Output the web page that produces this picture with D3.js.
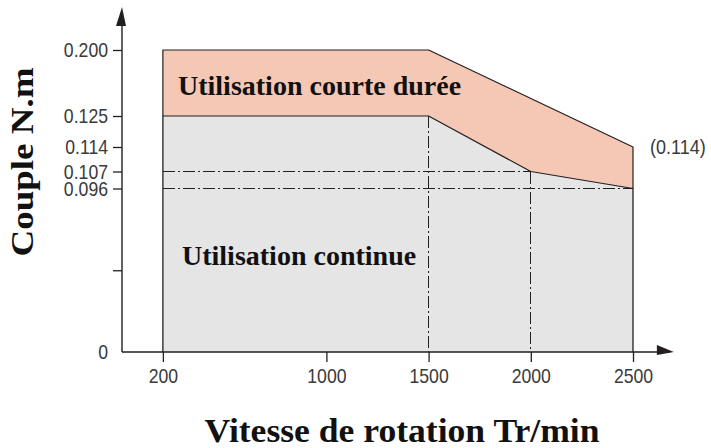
<!DOCTYPE html>
<html>
<head>
<meta charset="utf-8">
<script src="https://cdn.jsdelivr.net/npm/d3@7"></script>
<style>
    body { margin: 0; background: #fff; }
    .tick text { font-family: "Liberation Sans Narrow", "Liberation Sans", Arial, sans-serif; fill: #3a3a3a; }
    .title { font-family: "Liberation Serif", "Times New Roman", serif; font-weight: bold; fill: #111; }
</style>
</head>
<body>
<svg></svg>
<script>
// Torque / speed envelope of the motor (schematic, not to scale on the torque axis)
const peakSpeeds = [200, 1500, 2500];
const peakTorque = [0.200, 0.200, 0.114];
const contSpeeds = [200, 1500, 2000, 2500];
const contTorque = [0.125, 0.125, 0.107, 0.096];

const xTicks = [200, 1000, 1500, 2000, 2500];
const yTicks = [0, 0.048, 0.096, 0.107, 0.114, 0.125, 0.200];
const yTickLabels = ['0', '', '0.096', '0.107', '0.114', '0.125', '0.200'];

let width = 711,
    height = 448,
    ink = '#231f20',
    pink = '#f5c7b5',
    grey = '#e5e5e5';

const svg = d3.select('svg')
    .attr('width', width)
    .attr('height', height);

// speed axis is linear from 0
const x = d3.scaleLinear()
    .domain([0, 2500])
    .range([122, 633]);

// torque axis is drawn piecewise in the original (labelled values are spread out)
const y = d3.scaleLinear()
    .domain([0, 0.096, 0.107, 0.114, 0.125, 0.200])
    .range([352, 188.5, 171.5, 147, 116, 50]);

const peak = peakSpeeds.map((s, i) => [s, peakTorque[i]]);
const cont = contSpeeds.map((s, i) => [s, contTorque[i]]);
const line = d3.line().x((d) => x(d[0])).y((d) => y(d[1]));

// squeeze sans labels to mimic the condensed face of the original
function narrow(sel, k) {
    sel.each(function () {
        let w = this.getComputedTextLength();
        if (w > 0) d3.select(this)
            .attr('textLength', w * k)
            .attr('lengthAdjust', 'spacingAndGlyphs');
    });
}

// continuous-use area (grey), down to the speed axis
const first = cont[0], last = cont[cont.length - 1];
svg.append('path')
    .attr('d', line([[first[0], 0], ...cont, [last[0], 0]]))
    .attr('fill', grey)
    .attr('stroke', 'none');

// short-duration area (pink) between peak and continuous curves
svg.append('path')
    .attr('d', line([...peak, ...cont.slice().reverse()]) + 'Z')
    .attr('fill', pink)
    .attr('stroke', ink)
    .attr('stroke-width', 1.2)
    .attr('stroke-linejoin', 'round');

// reference dash-dot lines
const refs = svg.append('g')
    .attr('stroke', ink)
    .attr('stroke-width', 1.1)
    .attr('stroke-dasharray', '12,3,2,3')
    .attr('shape-rendering', 'crispEdges');
refs.append('line')
    .attr('x1', x(first[0])).attr('x2', x(cont[2][0]))
    .attr('y1', y(cont[2][1])).attr('y2', y(cont[2][1]));
refs.append('line')
    .attr('x1', x(first[0])).attr('x2', x(last[0]))
    .attr('y1', y(last[1])).attr('y2', y(last[1]));
[cont[1], cont[2]].forEach((p) => {
    refs.append('line')
        .attr('x1', x(p[0])).attr('x2', x(p[0]))
        .attr('y1', y(p[1])).attr('y2', y(0));
});

// solid side edges of the envelope, running down to the axis ticks
svg.append('line')
    .attr('x1', x(first[0])).attr('x2', x(first[0]))
    .attr('y1', y(first[1])).attr('y2', y(0))
    .attr('stroke', ink).attr('stroke-width', 1.3);
svg.append('line')
    .attr('x1', x(last[0])).attr('x2', x(last[0]))
    .attr('y1', y(last[1])).attr('y2', y(0))
    .attr('stroke', ink).attr('stroke-width', 1.3);

// axes
const xAxis = svg.append('g')
    .attr('transform', `translate(0,${y(0)})`)
    .call(d3.axisBottom(x)
        .tickValues(xTicks)
        .tickSize(10)
        .tickPadding(6)
        .tickFormat(d3.format('d')));
xAxis.select('.domain').remove();
xAxis.selectAll('line').attr('stroke', ink).attr('stroke-width', 1.3);
xAxis.selectAll('text').attr('font-size', 21).call(narrow, 0.84);

const yAxis = svg.append('g')
    .attr('transform', `translate(${x(0)},0)`)
    .call(d3.axisLeft(y)
        .tickValues(yTicks)
        .tickSize(9)
        .tickPadding(5)
        .tickFormat((d, i) => yTickLabels[i]));
yAxis.select('.domain').remove();
yAxis.selectAll('line').attr('stroke', ink).attr('stroke-width', 1.3);
yAxis.selectAll('.tick').filter((d) => d === 0).select('line').remove();
yAxis.selectAll('text').attr('font-size', 21).call(narrow, 0.84);

// axis lines with arrow heads
svg.append('path')
    .attr('d', `M${x(0)},${y(0)}H${x(2680)}M${x(0)},${y(0)}V20`)
    .attr('fill', 'none')
    .attr('stroke', ink)
    .attr('stroke-width', 1.4);
svg.append('path')
    .attr('d', `M${x(2700) - 17},345L${x(2700)},${y(0)}L${x(2700) - 17},355Z`)
    .attr('fill', ink);
svg.append('path')
    .attr('d', `M${x(0)},7L${x(0) - 6},26L${x(0) + 4},26Z`)
    .attr('fill', ink);

// region labels
svg.append('text')
    .attr('class', 'title')
    .attr('x', 178).attr('y', 95)
    .attr('font-size', 28)
    .text('Utilisation courte durée');
svg.append('text')
    .attr('class', 'title')
    .attr('x', 182).attr('y', 265)
    .attr('font-size', 28)
    .text('Utilisation continue');

svg.append('text')
    .attr('x', 650).attr('y', y(peakTorque[2]) + 7)
    .attr('font-family', '"Liberation Sans Narrow", "Liberation Sans", Arial, sans-serif')
    .attr('font-size', 20)
    .attr('fill', '#3a3a3a')
    .text(`(${peakTorque[2]})`)
    .call(narrow, 0.9);

// axis titles
svg.append('text')
    .attr('class', 'title')
    .attr('x', 402).attr('y', 442)
    .attr('text-anchor', 'middle')
    .attr('font-size', 34)
    .attr('textLength', 395)
    .attr('lengthAdjust', 'spacingAndGlyphs')
    .text('Vitesse de rotation Tr/min');
svg.append('text')
    .attr('class', 'title')
    .attr('transform', 'translate(33,162) rotate(-90)')
    .attr('text-anchor', 'middle')
    .attr('font-size', 31)
    .attr('textLength', 189)
    .attr('lengthAdjust', 'spacingAndGlyphs')
    .text('Couple N.m');
</script>
</body>
</html>
